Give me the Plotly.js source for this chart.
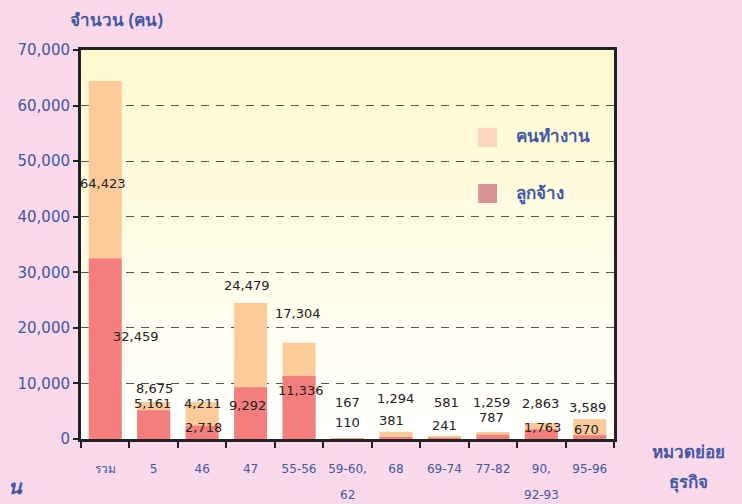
<!DOCTYPE html>
<html>
<head>
<meta charset="utf-8">
<script src="https://cdn.plot.ly/plotly-3.0.1.min.js"></script>
<style>html,body{margin:0;padding:0;background:#F9D9EA;}#chart{width:742px;height:504px;}</style>
</head>
<body>
<div id="chart"></div>
<script>
// Categories (business sub-groups)
const categories = ['รวม', '5', '46', '47', '55-56', '59-60, 62', '68', '69-74', '77-82', '90, 92-93', '95-96'];
const catLine1 = ['รวม', '5', '46', '47', '55-56', '59-60,', '68', '69-74', '77-82', '90,', '95-96'];
const catLine2 = ['', '', '', '', '', '62', '', '', '', '92-93', ''];

// Bar heights as drawn in the picture
const workersBar   = [64423, 6660, 6660, 24479, 17304, 167, 1294, 581, 1259, 2863, 3589];
const employeesBar = [32459, 5161, 2400, 9292, 11336, 110, 381, 241, 787, 1763, 670];

// Values printed as labels
const workersLabel   = [64423, 8675, 4211, 24479, 17304, 167, 1294, 581, 1259, 2863, 3589];
const employeesLabel = [32459, 5161, 2718, 9292, 11336, 110, 381, 241, 787, 1763, 670];

// Y-axis ticks
const yTicks = [0, 10000, 20000, 30000, 40000, 50000, 60000, 70000];

// Label placement (layout only)
const workersLabelY   = [45900, 9000, 6300, 27700, 22500, 6650, 7200, 6650, 6650, 6300, 5750];
const employeesLabelY = [18500, 6450, 2000, 5950, 8650, 2900, 3250, 2350, 3800, 2150, 1800];
const workersLabelDx   = [-2, 1, 0, -4, -1, 0, 0, 2, -1, -1, -2];
const employeesLabelDx = [31, -1, 1, -3, 2, 0, -4, 0, -1, 1, -3];

const blue = '#4257A6';
const fmt = v => v.toLocaleString('en-US');
const idx = categories.map((c, i) => i);

const traces = [
  {type: 'bar', x: idx, y: workersBar, name: 'คนทำงาน', width: 0.68,
   marker: {color: '#FCCB99', line: {width: 0}}, hoverinfo: 'skip', showlegend: false},
  {type: 'bar', x: idx, y: employeesBar, name: 'ลูกจ้าง', width: 0.68,
   marker: {color: '#F47E7E', line: {width: 0}}, hoverinfo: 'skip', showlegend: false}
];

const annotations = [];
const lblFont = {family: 'DejaVu Sans, Verdana, sans-serif', size: 13, color: '#222'};
categories.forEach((c, i) => {
  annotations.push({x: i, y: workersLabelY[i], xref: 'x', yref: 'y', text: fmt(workersLabel[i]),
    showarrow: false, font: lblFont, xshift: workersLabelDx[i]});
  annotations.push({x: i, y: employeesLabelY[i], xref: 'x', yref: 'y', text: fmt(employeesLabel[i]),
    showarrow: false, font: lblFont, xshift: employeesLabelDx[i]});
  if (catLine2[i]) {
    annotations.push({x: i, y: 0, xref: 'x', yref: 'paper', yshift: -57, text: catLine2[i],
      showarrow: false, font: {family: 'DejaVu Sans, sans-serif', size: 12, color: blue}});
  }
});

const titleFont = {family: 'Noto Sans, DejaVu Sans, sans-serif', size: 17, color: blue};
annotations.push({xref: 'paper', yref: 'paper', x: -0.024, y: 1.078, xanchor: 'left', yanchor: 'middle',
  text: '<b>จำนวน (คน)</b>', showarrow: false, font: titleFont});
annotations.push({xref: 'paper', yref: 'paper', x: 1.14, y: -0.033, xanchor: 'center', yanchor: 'middle',
  text: '<b>หมวดย่อย</b>', showarrow: false, font: titleFont});
annotations.push({xref: 'paper', yref: 'paper', x: 1.14, y: -0.11, xanchor: 'center', yanchor: 'middle',
  text: '<b>ธุรกิจ</b>', showarrow: false, font: titleFont});
annotations.push({xref: 'paper', yref: 'paper', x: -0.14, y: -0.122, xanchor: 'left', yanchor: 'middle',
  text: '<b><i>น</i></b>', showarrow: false, font: {family: 'Noto Sans, sans-serif', size: 20, color: blue}});
// legend texts
annotations.push({xref: 'paper', yref: 'paper', x: 0.812, y: 0.779, xanchor: 'left', yanchor: 'middle',
  text: '<b>คนทำงาน</b>', showarrow: false, font: titleFont});
annotations.push({xref: 'paper', yref: 'paper', x: 0.812, y: 0.632, xanchor: 'left', yanchor: 'middle',
  text: '<b>ลูกจ้าง</b>', showarrow: false, font: titleFont});

const shapes = [
  {type: 'rect', xref: 'paper', yref: 'paper', x0: 0.745, x1: 0.7805, y0: 0.7506, y1: 0.7995,
   fillcolor: '#FBD5BD', line: {width: 0}},
  {type: 'rect', xref: 'paper', yref: 'paper', x0: 0.745, x1: 0.7805, y0: 0.6067, y1: 0.6555,
   fillcolor: '#D99595', line: {width: 0}}
];

const svg = '<svg xmlns="http://www.w3.org/2000/svg" width="100" height="100" preserveAspectRatio="none">' +
  '<defs><linearGradient id="g" x1="0" y1="0" x2="0" y2="1">' +
  '<stop offset="0" stop-color="#FEF9CD"/><stop offset="0.55" stop-color="#FFFCE8"/><stop offset="1" stop-color="#FFFFFF"/>' +
  '</linearGradient></defs><rect width="100" height="100" fill="url(#g)"/></svg>';

const layout = {
  width: 742, height: 504,
  paper_bgcolor: '#F9D9EA', plot_bgcolor: '#FFFFFF',
  margin: {l: 81, r: 128, t: 50, b: 65},
  barmode: 'overlay',
  showlegend: false,
  images: [{source: 'data:image/svg+xml;charset=utf-8,' + encodeURIComponent(svg),
    xref: 'paper', yref: 'paper', x: 0, y: 1, sizex: 1, sizey: 1, xanchor: 'left', yanchor: 'top',
    sizing: 'stretch', layer: 'below'}],
  xaxis: {
    type: 'linear', range: [-0.5, categories.length - 0.5],
    tickvals: idx, ticktext: catLine1, ticks: '',
    ticklabelstandoff: 17,
    showline: true, linecolor: '#222', linewidth: 3, mirror: true,
    showgrid: false, zeroline: false,
    tickfont: {family: 'DejaVu Sans, sans-serif', size: 12, color: blue}
  },
  xaxis2: {
    overlaying: 'x', anchor: 'y', side: 'bottom', type: 'linear', range: [-0.5, categories.length - 0.5],
    tickvals: idx.concat([categories.length]).map(v => v - 0.5), showticklabels: false,
    ticks: 'outside', ticklen: 8, tickwidth: 2, tickcolor: '#222',
    showline: false, showgrid: false, zeroline: false
  },
  yaxis: {
    range: [0, 70000], tickvals: yTicks, tickformat: ',d',
    ticks: 'outside', ticklen: 5, tickwidth: 2, tickcolor: '#222',
    showline: true, linecolor: '#222', linewidth: 3, mirror: true,
    showgrid: true, gridcolor: '#555', gridwidth: 1, griddash: '8px,7px',
    zeroline: false,
    tickfont: {family: 'DejaVu Sans, sans-serif', size: 15, color: blue}
  },
  annotations: annotations,
  shapes: shapes
};

// move second-line category labels lower
annotations.forEach(a => { if (a.yshift === -57) a.yshift = -65; });

// invisible trace to activate the tick-only secondary x axis
traces.push({type: 'scatter', x: [0], y: [0], xaxis: 'x2', yaxis: 'y', mode: 'markers',
  marker: {opacity: 0}, hoverinfo: 'skip', showlegend: false});

Plotly.newPlot('chart', traces, layout, {displayModeBar: false, staticPlot: true});
</script>
</body>
</html>
